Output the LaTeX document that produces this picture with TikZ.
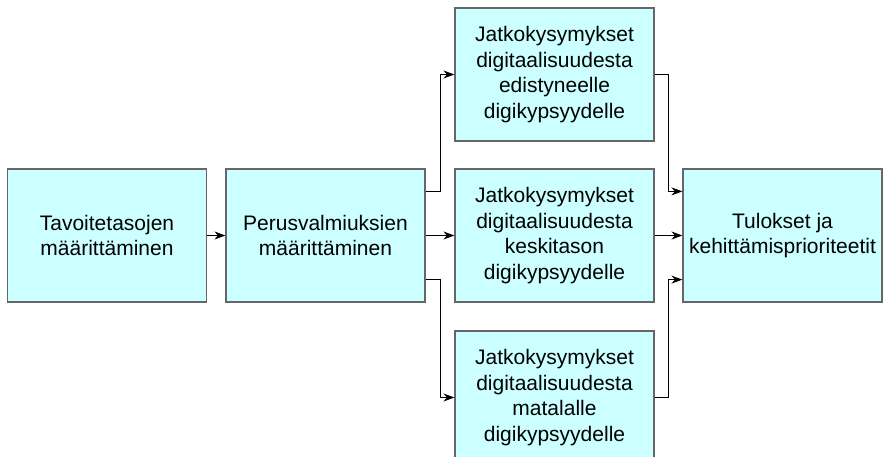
\documentclass[tikz,border=0pt]{standalone}
\usepackage{fontspec}
\setmainfont{Liberation Sans}
\usetikzlibrary{arrows.meta,calc}
\definecolor{boxfill}{HTML}{CCFFFF}
\definecolor{boxline}{HTML}{666666}
\begin{document}
\begin{tikzpicture}[x=1pt,y=-1pt,
  box/.style={draw=boxline,line width=1.2pt,fill=boxfill,minimum width=199pt,minimum height=133pt,
    inner sep=0pt,align=center,font=\fontsize{21}{25.7}\selectfont},
  arr/.style={draw=black,line width=0.9pt,-{Stealth[length=11pt,width=8pt]}}]
\useasboundingbox[fill=white] (0,0) rectangle (883,457);
\node[box] (b1) at (107,235.5) {Tavoitetasojen\\määrittäminen};
\node[box] (b2) at (325.5,235.5) {Perusvalmiuksien\\määrittäminen};
\node[box] (top) at (554.5,74.5) {Jatkokysymykset\\digitaalisuudesta\\edistyneelle\\digikypsyydelle};
\node[box] (mid) at (554.5,235.5) {Jatkokysymykset\\digitaalisuudesta\\keskitason\\digikypsyydelle};
\node[box] (bot) at (554.5,397.5) {Jatkokysymykset\\digitaalisuudesta\\matalalle\\digikypsyydelle};
\node[box] (res) at (782.5,235.5) {Tulokset ja\\kehittämisprioriteetit};
\draw[arr] (b1) -- (b2);
\draw[arr] (b2) -- (mid);
\draw[arr] (mid) -- (res);
\draw[arr] ([yshift=-23pt]b2.north east) -- ++(15,0) |- (top.west);
\draw[arr] ([yshift=23pt]b2.south east) -- ++(15,0) |- (bot.west);
\draw[arr] (top.east) -- ++(14,0) |- ([yshift=-23pt]res.north west);
\draw[arr] (bot.east) -- ++(14,0) |- ([yshift=23pt]res.south west);
\end{tikzpicture}
\end{document}
